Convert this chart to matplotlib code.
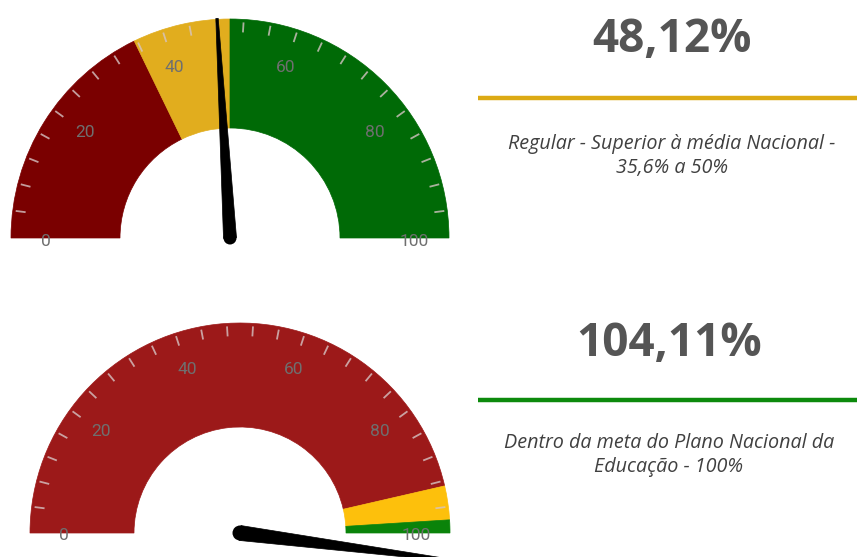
import numpy as np
import matplotlib
matplotlib.use("Agg")
import matplotlib.pyplot as plt
from matplotlib.patches import Wedge, Polygon, Circle

# ---- data ----
scale_min, scale_max = 0, 100
tick_labels = [0, 20, 40, 60, 80, 100]
minor_step = 4

g1_bands = [(0, 35.6), (35.6, 50), (50, 100)]
g1_colors = ["#7a0000", "#e1ad1e", "#006a06"]
g1_value = 48.12
g1_value_text = "48,12%"
g1_line_color = "#dcaa14"
g1_desc = "Regular - Superior à média Nacional -\n35,6% a 50%"

g2_bands = [(0, 92.8), (92.8, 98), (98, 100)]
g2_colors = ["#9c1919", "#fdc00c", "#0a830a"]
g2_value = 104.11
g2_value_text = "104,11%"
g2_line_color = "#0c8a0c"
g2_desc = "Dentro da meta do Plano Nacional da\nEducação - 100%"

W, H = 857, 557
fig = plt.figure(figsize=(W / 100, H / 100), dpi=100)
ax = fig.add_axes([0, 0, 1, 1])
ax.set_xlim(0, W)
ax.set_ylim(0, H)
ax.set_aspect("equal")
ax.axis("off")


def ang(v):
    return 180.0 - (v - scale_min) / (scale_max - scale_min) * 180.0


def gauge(cx, cy, R, r_in, bands, colors, value, needle_half=7):
    for (a, b), c in zip(bands, colors):
        ax.add_patch(Wedge((cx, cy), R, ang(b), ang(a), width=R - r_in,
                           facecolor=c, edgecolor=c, lw=0.5, zorder=1))
    # minor ticks
    for v in np.arange(scale_min, scale_max + 0.01, minor_step):
        if v in (scale_min, scale_max):
            continue
        t = np.radians(ang(v))
        r1, r2 = R - 3, R - 13
        ax.plot([cx + r1 * np.cos(t), cx + r2 * np.cos(t)],
                [cy + r1 * np.sin(t), cy + r2 * np.sin(t)],
                color="#d6c4c4", lw=1.3, alpha=0.8, zorder=2,
                solid_capstyle="butt")
    # labels
    for v in tick_labels:
        t = np.radians(ang(v))
        end = v in (scale_min, scale_max)
        rr = (0.84 if end else 0.82) * R
        dy = -3 if end else 0
        ax.text(cx + rr * np.cos(t), cy + rr * np.sin(t) + dy, str(v),
                ha="center", va="center", fontsize=12.5, color="#6f6f6f",
                family="Roboto", zorder=3)
    # needle
    t = np.radians(ang(value))
    L = R + 1
    tip = (cx + L * np.cos(t), cy + L * np.sin(t))
    px, py = -np.sin(t), np.cos(t)
    tw = 1.2
    pts = [(cx + needle_half * px, cy + needle_half * py),
           (tip[0] + tw * px, tip[1] + tw * py),
           (tip[0] - tw * px, tip[1] - tw * py),
           (cx - needle_half * px, cy - needle_half * py)]
    ax.add_patch(Polygon(pts, closed=True, facecolor="black",
                         edgecolor="black", lw=0.5, zorder=4))
    ax.add_patch(Circle((cx, cy), needle_half, facecolor="black",
                        edgecolor="none", zorder=4))


def panel(yc_num, y_line, y_desc, xc, num_text, line_color, desc):
    ax.text(xc, H - yc_num, num_text, ha="center", va="center",
            fontsize=33, fontweight="bold", color="#555555",
            family="Open Sans")
    ax.plot([478, W], [H - y_line, H - y_line], color=line_color, lw=3.2,
            solid_capstyle="butt")
    ax.text(xc, H - y_desc, desc, ha="center", va="center",
            fontsize=14.2, style="italic", color="#404040",
            family="Open Sans", linespacing=1.25)


gauge(230, H - 238, 219, 110, g1_bands, g1_colors, g1_value, needle_half=6.5)
gauge(240, H - 533, 210, 106, g2_bands, g2_colors, g2_value, needle_half=7.5)

panel(40, 98, 156, 672, g1_value_text, g1_line_color, g1_desc)
panel(343, 400, 455, 669, g2_value_text, g2_line_color, g2_desc)

fig.savefig("out.png", dpi=100)
